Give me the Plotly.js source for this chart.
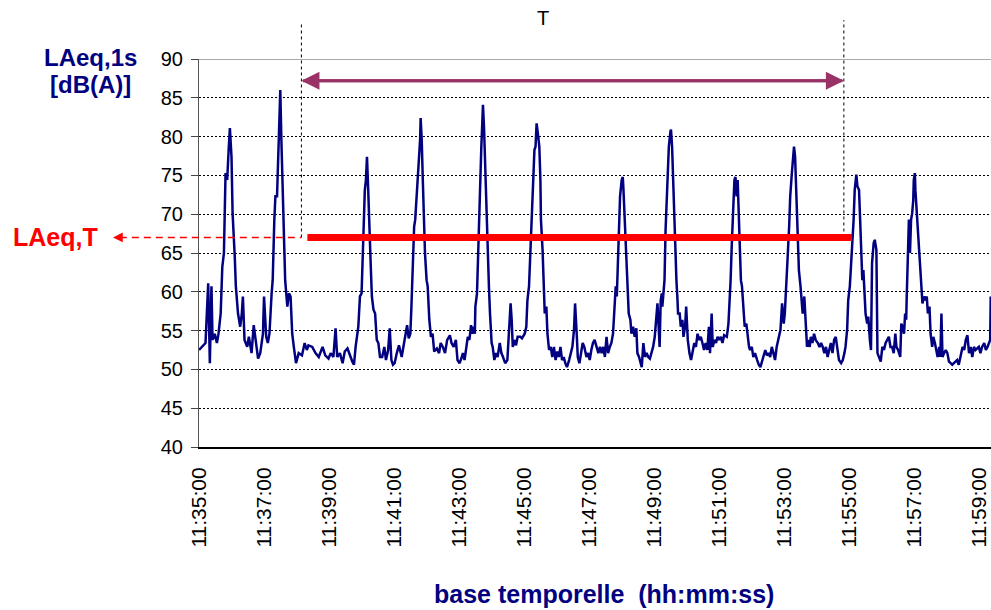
<!DOCTYPE html>
<html>
<head>
<meta charset="utf-8">
<script src="https://cdn.plot.ly/plotly-3.0.1.min.js"></script>
<style>html,body{margin:0;padding:0;background:#fff;}#chart{width:991px;height:610px;}</style>
</head>
<body>
<div id="chart"></div>
<script>
// ---- data ----
const startClock = '11:35:00';
const rangeEndSec = 1461.5;            // visible end of the time axis (s after start)
const seconds = [
0,6,12,17,20,23,25,29,33,36,40,43,46,49,52,55,57,60,62,66,68,72,76,79,81,84,89,92,97,101,104,109,113,118,120,124,127,130,134,136,139,141,144,147,150,152,155,157,159,163,166,169,172,175,179,184,190,195,199,202,209,215,221,228,233,239,
243,248,252,255,260,265,269,274,279,283,286,289,294,297,300,303,306,308,310,312,314,317,319,322,325,328,331,334,338,342,345,349,352,355,358,361,365,369,374,377,381,384,387,390,392,395,397,399,402,404,406,408,409,411,413,415,417,420,422,425,428,431,434,439,443,446,450,454,458,463,466,470,474,477,481,485,
487,490,493,496,499,502,504,507,509,510,513,515,516,519,521,523,524,526,528,530,532,535,537,540,542,545,548,551,555,558,561,565,569,572,575,577,579,582,585,588,593,596,601,604,606,609,611,614,616,619,621,623,626,628,630,631,634,636,638,641,643,646,649,652,655,658,661,664,667,670,673,676,679,683,686,689,692,694,697,699,702,705,708,711,715,718,721,724,727,730,
734,737,740,743,746,749,752,755,758,761,764,767,769,771,774,775,777,780,782,783,785,787,789,791,793,796,798,801,804,807,809,812,815,817,820,823,826,829,832,835,838,841,844,846,847,850,852,854,855,857,859,861,863,865,867,870,871,873,875,877,879,881,883,884,887,889,892,894,897,899,902,905,908,911,914,917,920,923,926,929,932,935,938,941,943,946,948,951,954,957,960,963,966,969,974,
977,979,981,983,985,988,990,992,994,996,998,1000,1002,1005,1007,1010,1012,1015,1017,1020,1023,1026,1030,1033,1036,1039,1042,1045,1048,1051,1054,1057,1060,1063,1066,1070,1073,1076,1079,1081,1084,1086,1089,1091,1094,1096,1098,1100,1102,1103,1105,1107,1110,1112,1114,1117,1119,1122,1124,1127,1129,1132,1135,1138,1142,1145,1148,1151,1154,1157,1160,1163,1166,1169,1172,1175,1178,1181,1185,1188,1191,1193,1196,1198,1201,1203,1206,1208,1210,1213,1215,
1218,1220,1222,1223,1224,1226,1228,1230,1233,1235,1238,1240,1242,1245,1247,1249,1250,1252,1255,1258,1261,1264,1267,1270,1273,1276,1279,1282,1285,1287,1290,1294,1296,1298,1301,1303,1305,1306,1308,1310,1312,1314,1316,1318,1319,1321,1322,1324,1326,1329,1331,1333,1335,1338,1340,1343,1345,1348,1350,1353,1355,1358,1361,1363,1366,1368,1370,1372,1375,1378,1381,1384,1387,1390,1393,1396,1399,1402,1405,1409,1412,1415,1418,1421,1424,1427,1430,1433,1436,1439,1442,1445,1449,1452,1455,1458,1460,1461
];
const laeq1s = [
52.5,52.9,53.4,61.1,50.8,60.7,53.8,54.6,53.4,54.6,57.2,63.2,65.0,75.3,74.4,78.7,81.1,77.4,70.1,64.5,60.7,57.2,55.5,57.2,59.4,53.8,52.9,54.2,52.1,55.7,53.8,51.4,52.1,54.6,59.4,54.2,53.4,54.6,59.8,61.5,69.3,72.3,72.3,80.9,86.0,79.6,70.1,63.7,61.5,58.1,59.8,59.4,54.6,52.9,50.8,52.1,51.8,53.4,52.5,53.1,52.9,52.1,51.6,52.9,51.8,51.4,
52.1,51.6,55.3,51.6,52.1,50.8,52.3,52.7,51.6,51.0,50.6,52.9,55.5,59.4,59.8,66.7,73.1,74.4,77.4,73.6,68.0,63.2,59.4,57.7,57.2,53.8,53.4,51.6,51.6,52.9,51.2,52.5,55.3,51.2,50.6,50.8,52.1,53.1,51.6,52.9,54.6,55.7,54.0,54.6,58.1,65.0,68.4,69.3,72.3,74.4,76.6,79.6,82.4,79.6,74.4,68.4,65.0,61.5,60.7,56.4,54.2,54.6,52.3,52.7,52.1,53.4,52.9,52.1,53.8,54.4,53.4,52.9,53.8,51.2,50.8,51.6,
52.1,51.2,52.9,54.2,53.8,55.7,54.6,55.5,54.6,58.1,59.8,64.5,70.1,74.4,78.7,82.2,84.1,81.1,76.6,70.1,65.0,60.7,57.2,53.4,52.9,51.2,52.1,51.6,53.4,52.1,51.6,50.8,51.2,54.2,58.5,56.4,52.9,53.8,53.1,54.2,54.2,54.0,54.6,55.5,58.9,60.7,64.1,68.8,73.6,78.3,78.7,81.7,80.0,78.7,74.4,69.3,65.4,61.5,57.2,58.1,54.6,52.5,52.9,51.6,52.9,51.2,52.3,51.6,52.9,51.2,51.6,50.8,50.3,51.2,52.1,52.9,55.1,58.5,54.6,51.6,50.8,52.1,53.4,52.9,51.6,52.1,51.2,52.5,53.4,53.8,
52.9,52.1,52.9,52.1,52.9,51.6,54.2,52.1,52.9,53.4,54.6,58.1,60.7,59.4,65.8,70.1,72.3,74.4,74.8,73.6,70.1,65.8,62.8,60.7,57.2,56.4,54.6,55.5,54.2,55.3,52.1,51.6,50.8,50.3,53.4,51.6,52.1,51.6,51.4,52.1,52.9,54.2,56.4,58.5,57.2,52.9,58.9,59.8,58.1,60.3,61.5,68.0,72.3,75.3,78.7,80.7,80.9,78.7,74.0,70.1,65.8,61.5,58.9,57.2,57.2,55.5,56.4,54.2,55.5,58.1,53.8,52.1,51.2,52.5,53.4,52.9,54.6,53.8,54.2,53.4,52.5,53.4,52.5,55.5,52.1,57.2,52.9,53.8,53.4,54.2,53.8,54.2,53.4,54.4,54.2,
55.9,58.1,61.5,65.8,70.1,74.4,74.8,72.3,74.4,69.3,64.5,61.5,60.7,57.2,55.5,55.9,54.6,52.9,52.5,52.9,51.6,52.1,51.2,50.6,50.3,51.0,51.6,52.5,51.8,52.1,51.6,52.9,52.1,51.2,52.9,54.2,55.1,58.5,55.9,57.2,60.7,64.1,68.4,72.3,75.3,76.6,78.7,77.4,73.1,68.8,65.8,62.8,60.7,58.1,57.2,59.4,57.2,52.9,53.8,52.9,54.2,53.4,54.6,53.8,53.4,52.9,53.4,52.9,52.1,52.9,51.6,52.5,53.4,52.1,53.8,54.2,52.5,51.2,50.8,51.2,52.1,52.9,55.1,58.9,60.7,63.2,65.8,69.3,73.1,75.1,73.6,
73.1,69.3,65.8,65.0,61.5,62.8,59.8,57.2,55.9,56.8,53.8,52.5,63.7,66.3,66.7,65.4,65.4,52.1,51.6,51.0,52.9,52.5,53.4,53.8,54.2,52.9,52.9,52.1,54.6,52.9,52.5,51.6,55.9,55.5,54.6,57.2,56.4,59.4,64.5,69.3,65.0,69.3,70.1,71.8,74.4,75.3,73.1,71.0,68.0,65.8,63.7,61.5,58.5,59.4,58.9,59.4,57.2,58.1,54.6,52.9,54.2,53.4,52.1,51.6,52.9,51.6,57.2,51.6,52.1,52.5,52.1,51.0,50.8,50.6,50.8,51.0,51.2,50.6,51.6,52.9,52.5,53.8,54.4,52.1,52.9,51.6,52.9,52.5,52.7,52.9,52.1,52.9,53.4,52.5,52.9,53.4,53.8,59.4
];
const periodStartSec = 189;     // T start (11:38:09)
const periodEndSec = 1190;      // T end   (11:54:50)
const laeqT = 67;               // LAeq,T  [dB(A)]
const laeqTLineStart = 200;     // red LAeq,T bar
const laeqTLineEnd = 1205;
const arrowLevel = 87.2;        // level of the T arrow
const yMin = 40, yMax = 90, yStep = 5;

// ---- helpers ----
function pad(n){ return (n < 10 ? '0' : '') + n; }
const [h0, m0, s0] = startClock.split(':').map(Number);
function clock(sec){
  const tot = h0*3600 + m0*60 + s0 + sec;
  const h = Math.floor(tot/3600), m = Math.floor((tot%3600)/60);
  const s = tot - h*3600 - m*60;
  const si = Math.floor(s), frac = s - si;
  let str = '2000-01-01 ' + pad(h) + ':' + pad(m) + ':' + pad(si);
  if (frac > 0) str += '.' + Math.round(frac*1000).toString().padStart(3,'0');
  return str;
}
const xs = seconds.map(clock);
const yPaper = v => (v - yMin) / (yMax - yMin);
const xPaper = s => s / rangeEndSec;

const navy = '#000080', red = '#ff0000', purple = '#993366';
const fontFam = '"Liberation Sans", Arial, sans-serif';

const trace = {
  x: xs, y: laeq1s, type: 'scatter', mode: 'lines',
  line: {color: navy, width: 2.5}, hoverinfo: 'skip', showlegend: false
};

const layout = {
  width: 991, height: 610,
  margin: {l: 199, r: 0, t: 59, b: 163, pad: 0},
  paper_bgcolor: '#fff', plot_bgcolor: '#fff',
  font: {family: fontFam, color: '#000'},
  showlegend: false,
  xaxis: {
    type: 'date', range: [clock(0), clock(rangeEndSec)],
    tick0: clock(0), dtick: 120000, tickformat: '%H:%M:%S',
    tickangle: -90, tickfont: {family: fontFam, size: 21, color: '#000'},
    ticks: '', ticklabelstandoff: 10,
    showgrid: false, zeroline: false,
    showline: true, linecolor: '#000', linewidth: 2
  },
  yaxis: {
    range: [yMin, yMax], tick0: yMin, dtick: yStep,
    ticks: 'outside', ticklen: 7, tickcolor: '#444', tickwidth: 1,
    tickfont: {family: fontFam, size: 20, color: '#000'},
    ticklabelstandoff: 4,
    showgrid: true, gridcolor: '#000', gridwidth: 1, griddash: '2px,2px',
    zeroline: false, showline: true, linecolor: '#555', linewidth: 1
  },
  shapes: [
    // solid top line at y max
    {type: 'line', xref: 'paper', x0: 0, x1: 1, yref: 'y', y0: yMax, y1: yMax,
     line: {color: '#555', width: 1}},
    // vertical dashed markers for T
    {type: 'line', xref: 'x', x0: clock(periodStartSec), x1: clock(periodStartSec),
     yref: 'paper', y0: yPaper(laeqT), y1: 1.095, line: {color: '#000', width: 1, dash: '3px,3px'}},
    {type: 'line', xref: 'x', x0: clock(periodEndSec), x1: clock(periodEndSec),
     yref: 'paper', y0: yPaper(laeqT), y1: 1.1, line: {color: '#000', width: 1, dash: '3px,3px'}},
    // red dashed pointer to label
    {type: 'line', xref: 'paper', x0: -0.1, x1: xPaper(periodStartSec),
     yref: 'y', y0: laeqT, y1: laeqT, line: {color: red, width: 1.5, dash: '7px,5px'}},
    // LAeq,T bar
    {type: 'line', xref: 'x', x0: clock(laeqTLineStart), x1: clock(laeqTLineEnd),
     yref: 'y', y0: laeqT, y1: laeqT, line: {color: red, width: 7}}
  ],
  annotations: [
    // double arrow for T
    {xref: 'x', yref: 'y', x: clock(periodEndSec), y: arrowLevel,
     axref: 'x', ayref: 'y', ax: clock(periodStartSec), ay: arrowLevel,
     showarrow: true, arrowhead: 2, arrowsize: 1.2, arrowwidth: 3, arrowcolor: purple, text: '', standoff: 0},
    {xref: 'x', yref: 'y', x: clock(periodStartSec), y: arrowLevel,
     axref: 'x', ayref: 'y', ax: clock(periodEndSec), ay: arrowLevel,
     showarrow: true, arrowhead: 2, arrowsize: 1.2, arrowwidth: 3, arrowcolor: purple, text: '', standoff: 0},
    // red arrow head
    {xref: 'paper', yref: 'y', x: -0.1086, y: laeqT, ax: 10, ay: 0,
     showarrow: true, arrowhead: 2, arrowsize: 1.3, arrowwidth: 1.5, arrowcolor: red, text: '', standoff: 0},
    // LAeq,T label
    {xref: 'paper', yref: 'y', x: -0.125, y: laeqT, xanchor: 'right', yanchor: 'middle',
     showarrow: false, text: '<b>LAeq,T</b>', font: {family: fontFam, size: 25, color: red}},
    // y title (two lines)
    {xref: 'paper', yref: 'paper', x: -0.1376, y: 1.005, xanchor: 'center', yanchor: 'middle',
     showarrow: false, text: '<b>LAeq,1s</b>', font: {family: fontFam, size: 24, color: navy}},
    {xref: 'paper', yref: 'paper', x: -0.1376, y: 0.933, xanchor: 'center', yanchor: 'middle',
     showarrow: false, text: '<b>[dB(A)]</b>', font: {family: fontFam, size: 24, color: navy}},
    // x title
    {xref: 'paper', yref: 'paper', x: 0.511, y: -0.379, xanchor: 'center', yanchor: 'middle',
     showarrow: false, text: '<b>base temporelle\u00a0\u00a0(hh:mm:ss)</b>',
     font: {family: '"Liberation Sans Narrow", "Arial Narrow", ' + fontFam, size: 25, color: navy}},
    // T label
    {xref: 'paper', yref: 'paper', x: 0.4343, y: 1.106, xanchor: 'center', yanchor: 'middle',
     showarrow: false, text: 'T', font: {family: fontFam, size: 20, color: '#000'}}
  ]
};

Plotly.newPlot('chart', [trace], layout, {staticPlot: true, displayModeBar: false});
</script>
</body>
</html>
